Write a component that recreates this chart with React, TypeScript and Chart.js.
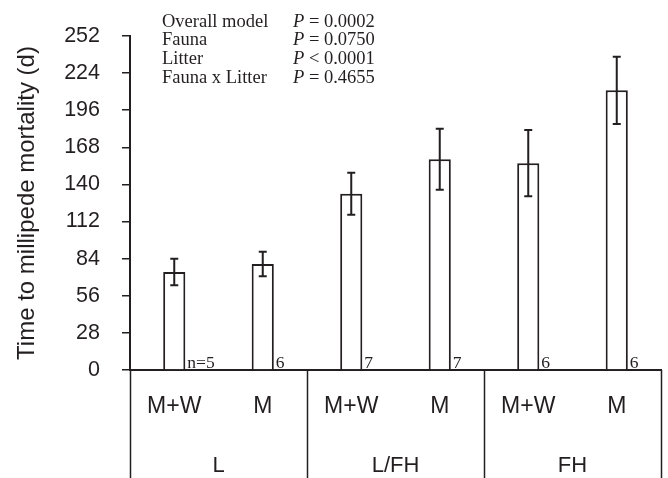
import React, { useEffect, useRef } from 'react';
import { Chart, registerables } from 'chart.js';

Chart.register(...registerables);

// ---- data ----
const treatments = ['M+W', 'M', 'M+W', 'M', 'M+W', 'M'];
const groups = ['L', 'L/FH', 'FH'];
const means = [74, 80, 133, 159, 156, 211];
const errors = [10, 9.3, 15.8, 23, 25, 25.4];
const nLabels = ['n=5', '6', '7', '7', '6', '6'];
const yMin = 0;
const yMax = 252;
const yStep = 28;
const yTitle = 'Time to millipede mortality (d)';
const statNames = ['Overall model', 'Fauna', 'Litter', 'Fauna x Litter'];
const statRelations = ['= 0.0002', '= 0.0750', '< 0.0001', '= 0.4655'];

const INK = '#231f20';
const SANS = '"Liberation Sans", Arial, Helvetica, sans-serif';
const SERIF = '"Liberation Serif", "Times New Roman", serif';

const extrasPlugin = {
  id: 'extras',
  afterDatasetsDraw(chart: any) {
    const ctx = chart.ctx;
    const y = chart.scales.y;
    const meta = chart.getDatasetMeta(0);
    const area = chart.chartArea;
    ctx.save();
    ctx.strokeStyle = INK;
    ctx.lineWidth = 2;
    meta.data.forEach((bar: any, i: number) => {
      const cx = bar.x;
      const top = y.getPixelForValue(means[i] + errors[i]);
      const bot = y.getPixelForValue(means[i] - errors[i]);
      ctx.beginPath();
      ctx.moveTo(cx, top);
      ctx.lineTo(cx, bot);
      ctx.moveTo(cx - 4, top);
      ctx.lineTo(cx + 4, top);
      ctx.moveTo(cx - 4, bot);
      ctx.lineTo(cx + 4, bot);
      ctx.stroke();
      ctx.fillStyle = INK;
      ctx.font = `17.5px ${SERIF}`;
      ctx.textAlign = 'left';
      ctx.textBaseline = 'alphabetic';
      ctx.fillText(nLabels[i], cx + bar.width / 2 + 2, area.bottom - 2);
    });
    ctx.restore();
  },
  afterDraw(chart: any) {
    const ctx = chart.ctx;
    const x = chart.scales.x;
    const area = chart.chartArea;
    const step = x.getPixelForValue(1) - x.getPixelForValue(0);
    ctx.save();
    ctx.strokeStyle = INK;
    ctx.lineWidth = 1.5;
    // group separators
    for (let g = 0; g <= groups.length; g++) {
      const px = g < groups.length
        ? x.getPixelForValue(g * 2) - step / 2
        : x.getPixelForValue(g * 2 - 1) + step / 2;
      ctx.beginPath();
      ctx.moveTo(Math.round(px) + 0.5, area.bottom);
      ctx.lineTo(Math.round(px) + 0.5, chart.height);
      ctx.stroke();
    }
    // group labels
    ctx.fillStyle = INK;
    ctx.font = `22px ${SANS}`;
    ctx.textAlign = 'center';
    ctx.textBaseline = 'middle';
    groups.forEach((gName, g) => {
      const cx = (x.getPixelForValue(g * 2) + x.getPixelForValue(g * 2 + 1)) / 2;
      ctx.fillText(gName, cx, 466);
    });
    // stats text
    ctx.textAlign = 'left';
    ctx.textBaseline = 'alphabetic';
    statNames.forEach((name, i) => {
      const by = 26.5 + i * 18.8;
      ctx.font = `18.5px ${SERIF}`;
      ctx.fillText(name, 162, by);
      ctx.font = `italic 18.5px ${SERIF}`;
      ctx.fillText('P', 293, by);
      const pw = ctx.measureText('P').width;
      ctx.font = `18.5px ${SERIF}`;
      ctx.fillText(' ' + statRelations[i], 293 + pw, by);
    });
    ctx.restore();
  },
};

export default function App() {
  const ref = useRef<HTMLCanvasElement | null>(null);
  useEffect(() => {
    document.body.style.margin = '0';
    const canvas = ref.current;
    if (!canvas) return;
    const chart = new Chart(canvas, {
      type: 'bar',
      data: {
        labels: treatments,
        datasets: [
          {
            data: means,
            backgroundColor: '#ffffff',
            borderColor: INK,
            borderWidth: 2,
            borderSkipped: 'bottom',
            categoryPercentage: 1,
            barPercentage: 0.25,
          },
        ],
      },
      options: {
        responsive: false,
        animation: false,
        devicePixelRatio: 1,
        layout: { padding: { top: 36, right: 7, left: 0, bottom: 0 } },
        plugins: { legend: { display: false }, tooltip: { enabled: false } },
        scales: {
          x: {
            offset: true,
            grid: { display: false, drawTicks: false },
            border: { display: true, color: INK, width: 2 },
            ticks: {
              color: INK,
              font: { family: SANS, size: 23 },
              padding: 23,
              maxRotation: 0,
              autoSkip: false,
            },
            afterFit: (scale: any) => {
              scale.height = 108;
            },
          },
          y: {
            min: yMin,
            max: yMax,
            grid: {
              drawOnChartArea: false,
              drawTicks: true,
              tickLength: 8,
              color: INK,
              lineWidth: 1.5,
            },
            border: { display: true, color: INK, width: 2 },
            ticks: {
              stepSize: yStep,
              color: INK,
              font: { family: SANS, size: 21.5 },
              padding: 22,
            },
            title: {
              display: true,
              text: yTitle,
              color: INK,
              font: { family: SANS, size: 24 },
              padding: { top: 13, bottom: 0 },
            },
            afterFit: (scale: any) => {
              scale.width = 130;
            },
          },
        },
      },
      plugins: [extrasPlugin],
    });
    return () => chart.destroy();
  }, []);
  return (
    <div style={{ position: 'absolute', left: 0, top: 0, width: 668, height: 478, background: '#fff' }}>
      <canvas ref={ref} width={668} height={478} />
    </div>
  );
}
